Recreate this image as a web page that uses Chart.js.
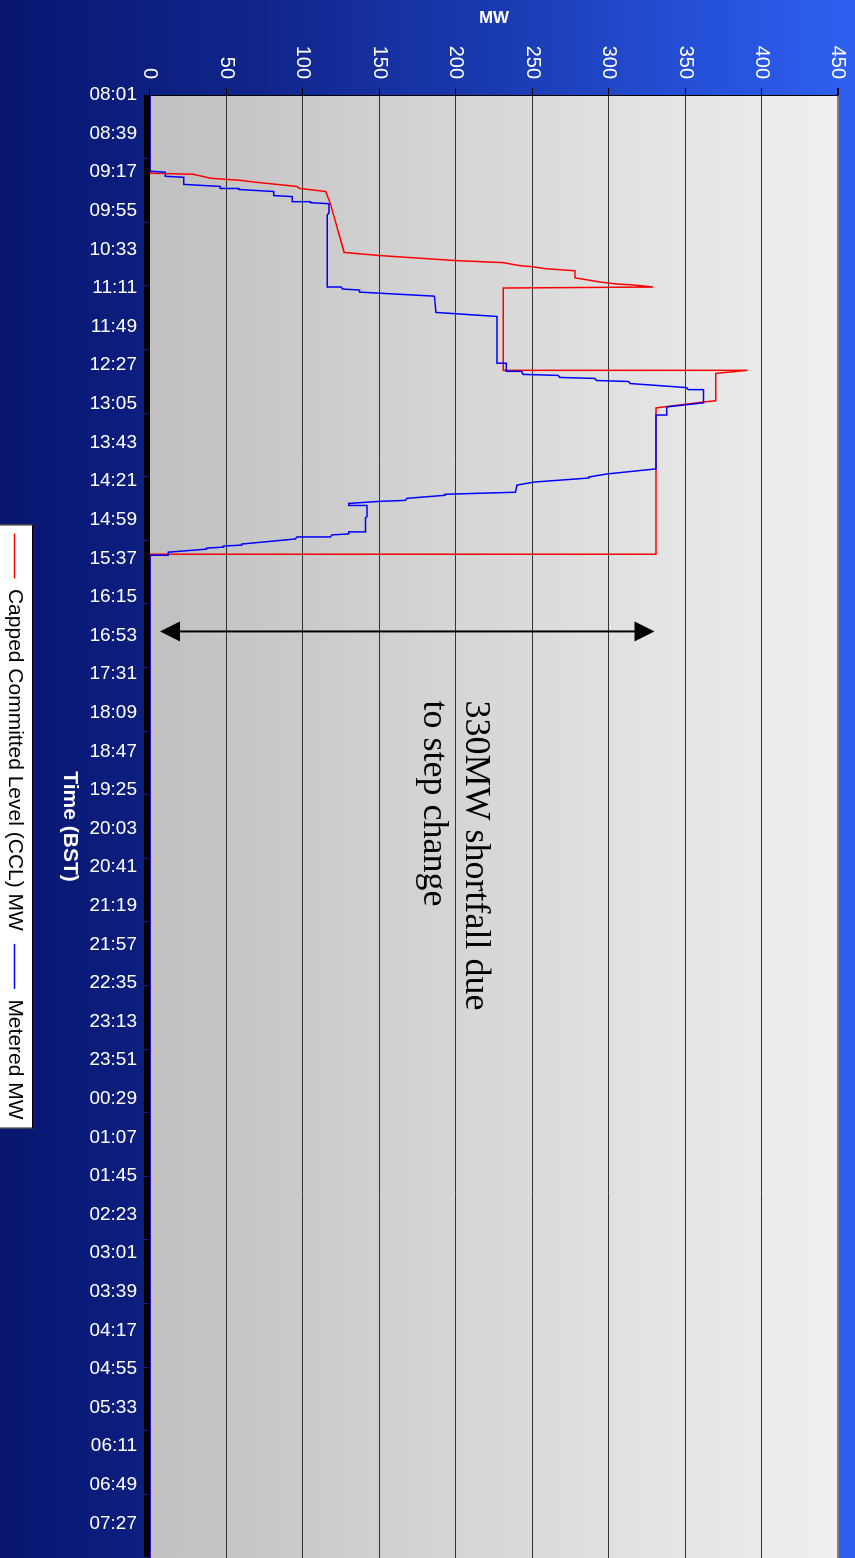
<!DOCTYPE html>
<html>
<head>
<meta charset="utf-8">
<script src="https://cdn.jsdelivr.net/npm/chart.js@4.4.0/dist/chart.umd.min.js"></script>
<style>
html, body { margin: 0; padding: 0; width: 855px; height: 1558px; overflow: hidden; background: #0a1a78; }
#wrap { position: absolute; left: 0; top: 0; width: 1558px; height: 855px; transform-origin: 0 0; transform: translate(855px, 0) rotate(90deg); }
</style>
</head>
<body>
<div id="wrap"><canvas id="chart" width="1558" height="855"></canvas></div>
<script>
// tick labels, one every 38 minutes from 08:01
const timeLabels = ['08:01', '08:39', '09:17', '09:55', '10:33', '11:11', '11:49', '12:27', '13:05', '13:43',
  '14:21', '14:59', '15:37', '16:15', '16:53', '17:31', '18:09', '18:47', '19:25', '20:03', '20:41', '21:19',
  '21:57', '22:35', '23:13', '23:51', '00:29', '01:07', '01:45', '02:23', '03:01', '03:39', '04:17', '04:55',
  '05:33', '06:11', '06:49', '07:27'];

// minutes after 08:01 and MW values
const cclMinutes = [0, 77, 78, 82, 84, 86, 90, 92, 95, 107, 155, 158, 160, 163, 165, 168, 169, 171, 173, 180,
  184, 186, 187, 189, 190, 271, 271, 274, 301, 302, 308, 452, 452, 1440];
const cclMW = [0, 0, 28, 40, 59, 70, 96, 98, 115, 118, 127, 150, 170, 200, 231, 242, 250, 259, 278, 278,
  294, 305, 316, 329, 231, 231, 391, 370, 370, 363, 331, 331, 0, 0];

const meteredMinutes = [0, 75, 76, 80, 81, 88, 90, 92, 92, 93, 95, 99, 100, 105, 105, 106, 107, 116, 118, 189,
  189, 191, 192, 194, 198, 214, 218, 264, 264, 272, 272, 275, 276, 278, 279, 281, 282, 284, 288, 290,
  290, 303, 307, 315, 315, 368, 373, 376, 377, 381, 384, 391, 392, 393, 394, 397, 399, 400, 402, 404,
  404, 415, 416, 430, 430, 432, 433, 435, 435, 437, 442, 443, 444, 445, 446, 447, 450, 453, 453, 1440];
const meteredMW = [0, 0, 10, 10, 22, 22, 46, 46, 58, 58, 81, 81, 93, 93, 105, 105, 117, 117, 116, 116,
  125, 126, 137, 137, 186, 187, 227, 227, 233, 233, 243, 244, 267, 268, 291, 292, 313, 314, 351, 352,
  362, 362, 338, 338, 331, 331, 299, 287, 287, 251, 240, 239, 216, 193, 193, 168, 167, 150, 130, 130,
  142, 142, 141, 141, 130, 130, 119, 118, 96, 95, 60, 60, 48, 48, 37, 37, 12, 12, 0, 0];

// shortfall annotation
const arrowMinute = 528;
const arrowFromMW = 6.5;
const arrowToMW = 330;
const noteMinute = 596;
const noteLines = ['330MW shortfall due', 'to step change'];
const noteBaselineMW = [207, 179];

const toPoints = (xs, ys) => xs.map((m, i) => ({ x: m, y: ys[i] }));

Chart.defaults.font.family = '"Liberation Sans", Arial, sans-serif';

const backdrop = {
  id: 'backdrop',
  beforeDraw(chart) {
    const { ctx, width, height, chartArea: a } = chart;
    ctx.save();
    const g = ctx.createLinearGradient(0, 0, 0, height);
    g.addColorStop(0, '#2f60f0');
    g.addColorStop(0.18, '#2550d8');
    g.addColorStop(0.42, '#1a3ab0');
    g.addColorStop(0.71, '#10248a');
    g.addColorStop(1, '#081670');
    ctx.fillStyle = g;
    ctx.fillRect(0, 0, width, height);

    const p = ctx.createLinearGradient(0, a.top, 0, a.bottom);
    p.addColorStop(0, '#f0f0f0');
    p.addColorStop(1, '#c0c0c0');
    ctx.fillStyle = p;
    ctx.fillRect(a.left, a.top, a.right - a.left, a.bottom - a.top);

    const lg = chart.legend;
    const hb = lg && lg.legendHitBoxes;
    if (hb && hb.length) {
      const x0 = Math.min(...hb.map(b => b.left)) - 9;
      const x1 = Math.max(...hb.map(b => b.left + b.width)) + 9;
      const y0 = lg.top + 5;
      ctx.fillStyle = '#ffffff';
      ctx.fillRect(x0, y0, x1 - x0, height - y0 + 2);
      ctx.strokeStyle = '#000';
      ctx.lineWidth = 1;
      ctx.strokeRect(x0 + 0.5, y0 + 0.5, x1 - x0 - 1, height - y0 + 2);
    }
    ctx.restore();
  }
};

const note = {
  id: 'note',
  afterDatasetsDraw(chart) {
    const { ctx, scales: { x, y } } = chart;
    const ax = x.getPixelForValue(arrowMinute);
    const yA = y.getPixelForValue(arrowFromMW);
    const yB = y.getPixelForValue(arrowToMW);
    ctx.save();
    ctx.strokeStyle = '#000';
    ctx.fillStyle = '#000';
    ctx.lineWidth = 2;
    ctx.beginPath();
    ctx.moveTo(ax, yA - 18);
    ctx.lineTo(ax, yB + 18);
    ctx.stroke();
    ctx.beginPath();
    ctx.moveTo(ax, yA);
    ctx.lineTo(ax - 10, yA - 20);
    ctx.lineTo(ax + 10, yA - 20);
    ctx.closePath();
    ctx.fill();
    ctx.beginPath();
    ctx.moveTo(ax, yB);
    ctx.lineTo(ax - 10, yB + 20);
    ctx.lineTo(ax + 10, yB + 20);
    ctx.closePath();
    ctx.fill();

    ctx.font = '36px "Liberation Serif", "Times New Roman", serif';
    ctx.textAlign = 'left';
    ctx.textBaseline = 'alphabetic';
    const nx = x.getPixelForValue(noteMinute);
    noteLines.forEach((t, i) => ctx.fillText(t, nx, y.getPixelForValue(noteBaselineMW[i])));
    ctx.restore();
  }
};

new Chart(document.getElementById('chart'), {
  type: 'line',
  data: {
    datasets: [
      {
        label: 'Capped Committed Level (CCL) MW',
        data: toPoints(cclMinutes, cclMW),
        borderColor: '#ff0000',
        backgroundColor: '#ff0000',
        borderWidth: 1.5,
        pointRadius: 0,
        order: 2
      },
      {
        label: 'Metered MW',
        data: toPoints(meteredMinutes, meteredMW),
        borderColor: '#0000ff',
        backgroundColor: '#0000ff',
        borderWidth: 1.5,
        pointRadius: 0,
        order: 1
      }
    ]
  },
  options: {
    responsive: false,
    animation: false,
    events: [],
    layout: { padding: { top: 17, left: 0, right: 0, bottom: 0 } },
    scales: {
      x: {
        type: 'linear',
        min: 0,
        max: 1440,
        afterBuildTicks: s => {
          const t = [];
          for (let m = 0; m <= 1440; m++) t.push({ value: m });
          s.ticks = t;
        },
        afterFit: s => {
          s.height = 112;
          s.paddingLeft = 0;
          s.paddingRight = 0;
        },
        ticks: {
          autoSkip: false,
          minRotation: 90,
          maxRotation: 90,
          padding: 7,
          color: '#ffffff',
          font: { size: 19 },
          callback: v => (v % 38 === 0 && timeLabels[v / 38]) ? timeLabels[v / 38] : ''
        },
        grid: { drawOnChartArea: false, drawTicks: true, tickLength: 6, color: '#000' },
        border: { color: '#000', width: 1 },
        title: {
          display: true,
          text: 'Time (BST)',
          color: '#ffffff',
          font: { size: 21, weight: 'bold' },
          padding: { top: 0, bottom: 19 }
        }
      },
      y: {
        min: 0,
        max: 450,
        afterFit: s => {
          s.width = 95;
          s.paddingTop = 0;
          s.paddingBottom = 0;
        },
        ticks: { stepSize: 50, color: '#ffffff', padding: 9, font: { size: 20 } },
        grid: {
          color: c => (c.tick && c.tick.value === 450) ? '#808080' : '#333333',
          lineWidth: c => (c.tick && c.tick.value === 450) ? 2 : 1,
          tickColor: '#000',
          tickLength: 7
        },
        border: { color: '#000', width: 1 },
        title: {
          display: true,
          text: 'MW',
          color: '#ffffff',
          font: { size: 17, weight: 'bold' },
          padding: { top: 8, bottom: 0 }
        }
      }
    },
    plugins: {
      legend: {
        position: 'bottom',
        fullSize: false,
        maxHeight: 38,
        labels: {
          usePointStyle: true,
          pointStyle: 'line',
          pointStyleWidth: 45,
          padding: 13,
          color: '#000',
          font: { size: 21 },
          sort: (a, b) => a.datasetIndex - b.datasetIndex
        }
      },
      tooltip: { enabled: false }
    }
  },
  plugins: [backdrop, note]
});
</script>
</body>
</html>
